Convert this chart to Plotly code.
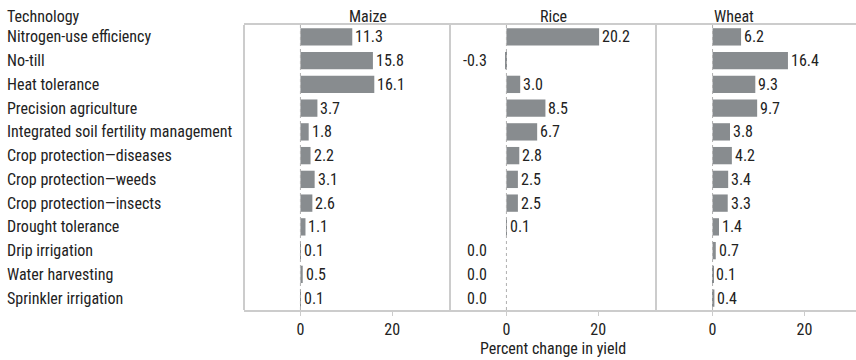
import plotly.graph_objects as go

technologies = ["Nitrogen-use efficiency", "No-till", "Heat tolerance", "Precision agriculture",
                "Integrated soil fertility management", "Crop protection\u2014diseases",
                "Crop protection\u2014weeds", "Crop protection\u2014insects", "Drought tolerance",
                "Drip irrigation", "Water harvesting", "Sprinkler irrigation"]
crops = ["Maize", "Rice", "Wheat"]
maize = [11.3, 15.8, 16.1, 3.7, 1.8, 2.2, 3.1, 2.6, 1.1, 0.1, 0.5, 0.1]
rice = [20.2, -0.3, 3.0, 8.5, 6.7, 2.8, 2.5, 2.5, 0.1, 0.0, 0.0, 0.0]
wheat = [6.2, 16.4, 9.3, 9.7, 3.8, 4.2, 3.4, 3.3, 1.4, 0.7, 0.1, 0.4]
x_ticks = [0, 20]
x_title = "Percent change in yield"
header = "Technology"

FONT = "Liberation Sans Narrow, Roboto Condensed, Arial Narrow, sans-serif"
TXT = "#222222"
BAR = "#888c8f"
GRID = "#cccccc"

W, H = 856, 360
ML, MR, MT, MB = 244, 0, 25, 50
pw = W - ML - MR
doms = [[0, 206 / pw], [206 / pw, 412 / pw], [412 / pw, 1.0]]
ranges = [[-12.3, 32.6], [-12.3, 32.6], [-12.3, 31.2]]

fig = go.Figure()
series = [maize, rice, wheat]
for i, (crop, vals) in enumerate(zip(crops, series)):
    xa = "x" if i == 0 else f"x{i+1}"
    fig.add_trace(go.Bar(x=vals, y=technologies, orientation="h", marker_color=BAR,
                         marker_line_width=0, xaxis=xa, yaxis="y", width=0.73,
                         showlegend=False, hoverinfo="x+y"))
    for t, v in zip(technologies, vals):
        if v > 0:
            fig.add_annotation(x=v, y=t, xref=xa, yref="y", text=f"{v:.1f}", showarrow=False,
                               xanchor="left", xshift=1, font=dict(family=FONT, size=16, color=TXT))
        else:
            fig.add_annotation(x=0, y=t, xref=xa, yref="y", text=f"{v:.1f}", showarrow=False,
                               xanchor="right", xshift=-17, font=dict(family=FONT, size=16, color=TXT))
    # dotted zero line
    fig.add_shape(type="line", xref=xa, yref="paper", x0=0, x1=0, y0=0, y1=1,
                  line=dict(color="#b0b0b0", width=1, dash="dot"), layer="above")
    # panel title
    fig.add_annotation(x=sum(doms[i]) / 2, y=1, xref="paper", yref="paper", yanchor="bottom",
                       yshift=-3, text=crop, showarrow=False, font=dict(family=FONT, size=16, color=TXT))
    axkw = dict(domain=doms[i], range=ranges[i], tickvals=x_ticks, ticks="outside", ticklen=4,
                tickcolor=GRID, showgrid=False, zeroline=False, showline=True, linecolor=GRID,
                linewidth=2, mirror=True, tickfont=dict(family=FONT, size=16, color=TXT),
                anchor="y", fixedrange=True, automargin=False)
    if i == 1:
        axkw["title"] = dict(text=x_title, font=dict(family=FONT, size=16, color=TXT), standoff=2)
    key = "xaxis" if i == 0 else f"xaxis{i+1}"
    fig.update_layout(**{key: axkw})

# left-aligned category labels
for t in technologies:
    fig.add_annotation(x=0, y=t, xref="paper", yref="y", xanchor="left", xshift=-ML + 5,
                       text=t, showarrow=False, font=dict(family=FONT, size=16, color=TXT))
fig.add_annotation(x=0, y=1, xref="paper", yref="paper", xanchor="left", yanchor="bottom",
                   xshift=-ML + 5, yshift=-3, text=header, showarrow=False,
                   font=dict(family=FONT, size=16, color=TXT))

# vertical panel separators (left edge of each panel)
for i in range(3):
    fig.add_shape(type="line", xref="paper", yref="paper", x0=doms[i][0], x1=doms[i][0], y0=0, y1=1,
                  line=dict(color=GRID, width=2))

fig.update_layout(
    width=W, height=H, margin=dict(l=ML, r=MR, t=MT, b=MB),
    paper_bgcolor="white", plot_bgcolor="white",
    yaxis=dict(categoryorder="array", categoryarray=technologies[::-1], showticklabels=False,
               showgrid=False, zeroline=False, showline=False, ticks="", fixedrange=True,
               range=[-0.5, len(technologies) - 0.5], automargin=False),
    bargap=0.27,
    font=dict(family=FONT, size=16, color=TXT),
)

fig.write_html("out.html", config={"displayModeBar": False},
               post_script="document.body.style.margin='0';document.body.style.overflow='hidden';")
